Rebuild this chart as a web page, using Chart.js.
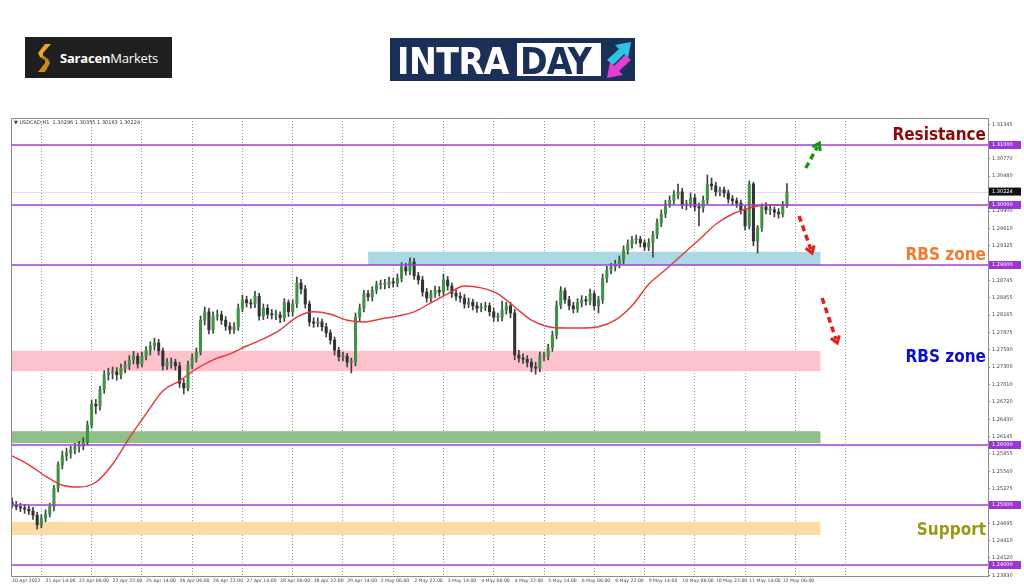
<!DOCTYPE html>
<html>
<head>
<meta charset="utf-8">
<script src="https://cdn.jsdelivr.net/npm/chart.js@4.4.1/dist/chart.umd.min.js"></script>
<style>
  html, body { margin: 0; padding: 0; background: #fff; }
  #wrap { position: relative; width: 1024px; height: 587px; overflow: hidden; }
  #chart { position: absolute; left: 0; top: 0; }
  .saracen { position: absolute; left: 25px; top: 37px; width: 147px; height: 41px; background: #1f1f1f; }
  .saracen svg { position: absolute; left: 11px; top: 7px; }
  .saracen .txt { position: absolute; left: 35px; top: 12px; color: #fff; font: 13px "Open Sans", sans-serif; letter-spacing: -0.2px; }
  .saracen .txt b { font-weight: 700; }
  .intraday { position: absolute; left: 390px; top: 38px; width: 245px; height: 43px; background: #1b3059; }
  .intraday .intra { position: absolute; left: 7px; top: 2px; color: #fff; font: bold 37px "DejaVu Sans Condensed", "DejaVu Sans", sans-serif; letter-spacing: -0.5px; }
  .intraday .day { position: absolute; left: 127px; top: 5px; width: 84px; height: 33px; background: #fff; }
  .intraday .day span { position: absolute; left: 3px; top: -3px; color: #1b3059; font: bold 37px "DejaVu Sans Condensed", "DejaVu Sans", sans-serif; letter-spacing: -1px; }
  .intraday svg { position: absolute; left: 214px; top: 2px; }
</style>
</head>
<body>
<div id="wrap">
  <canvas id="chart" width="1024" height="587"></canvas>
  <div class="saracen">
    <svg width="16" height="28" viewBox="0 0 16 28">
      <polygon points="9,0 15,0 7,9 7,12 13,15 4,13 2,9" fill="#e5a928"/>
      <polygon points="3,13 12,15 14,19 9,28 2,28 9,19 9,16" fill="#c98a16"/>
    </svg>
    <div class="txt"><b>Saracen</b>Markets</div>
  </div>
  <div class="intraday">
    <div class="intra">INTRA</div>
    <div class="day"><span>DAY</span></div>
    <svg width="30" height="40" viewBox="0 0 30 40">
      <polygon points="3,20 15,9 11,5 27,2 24,18 20,14 9,25" fill="#2ec4e6"/>
      <polygon points="27,20 15,31 19,35 3,38 6,22 10,26 21,15" fill="#e63ccf"/>
    </svg>
  </div>
</div>
<script>
// hourly bars: candles are 2-hour bars, index = hours since 20 Apr 22:00 (weekends skipped)
const barHours = 2;

const opens = [
  1.2505,1.2500,1.2497,1.2495,1.2493,1.2490,1.2483,1.2467,1.2478,1.2485,
  1.2497,1.2528,1.2567,1.2582,1.2587,1.2592,1.2597,1.2598,1.2605,1.2633,
  1.2668,1.2665,1.2692,1.2717,1.2720,1.2722,1.2717,1.2728,1.2733,1.2742,
  1.2748,1.2735,1.2748,1.2758,1.2765,1.2770,1.2757,1.2732,1.2737,1.2738,
  1.2732,1.2703,1.2695,1.2733,1.2745,1.2755,1.2808,1.2822,1.2792,1.2815,
  1.2817,1.2808,1.2798,1.2792,1.2797,1.2828,1.2842,1.2837,1.2835,1.2848,
  1.2815,1.2828,1.2818,1.2817,1.2817,1.2812,1.2837,1.2822,1.2835,1.2870,
  1.2860,1.2835,1.2805,1.2803,1.2805,1.2797,1.2787,1.2775,1.2758,1.2747,
  1.2748,1.2738,1.2738,1.2813,1.2828,1.2852,1.2847,1.2858,1.2867,1.2868,
  1.2868,1.2872,1.2870,1.2878,1.2897,1.2890,1.2905,1.2882,1.2875,1.2855,
  1.2845,1.2852,1.2858,1.2855,1.2875,1.2865,1.2853,1.2848,1.2845,1.2835,
  1.2838,1.2832,1.2828,1.2830,1.2832,1.2822,1.2813,1.2813,1.2825,1.2832,
  1.2820,1.2750,1.2745,1.2743,1.2738,1.2730,1.2728,1.2748,1.2748,1.2762,
  1.2783,1.2833,1.2857,1.2842,1.2832,1.2827,1.2837,1.2842,1.2840,1.2852,
  1.2832,1.2842,1.2878,1.2892,1.2897,1.2902,1.2908,1.2925,1.2935,1.2942,
  1.2943,1.2937,1.2930,1.2937,1.2950,1.2970,1.2985,1.3002,1.3008,1.3017,
  1.3022,1.3000,1.3002,1.3012,1.2997,1.2995,1.3008,1.3035,1.3032,1.3022,
  1.3025,1.3020,1.3010,1.3007,1.3003,1.2992,1.2965,1.3035,1.2940,1.2962,
  1.2997,1.2992,1.2992,1.2988,1.2985,1.3000
];
const highs = [
  1.2512,1.2506,1.2503,1.2501,1.2499,1.2496,1.2488,1.2484,1.2492,1.2503,
  1.2533,1.2572,1.2590,1.2595,1.2598,1.2603,1.2606,1.2612,1.2640,1.2675,
  1.2676,1.2698,1.2724,1.2728,1.2730,1.2729,1.2735,1.2740,1.2749,1.2756,
  1.2753,1.2755,1.2764,1.2772,1.2778,1.2776,1.2762,1.2744,1.2745,1.2743,
  1.2738,1.2710,1.2740,1.2752,1.2762,1.2815,1.2830,1.2828,1.2822,1.2825,
  1.2823,1.2814,1.2804,1.2804,1.2835,1.2850,1.2848,1.2843,1.2856,1.2853,
  1.2835,1.2834,1.2826,1.2825,1.2822,1.2844,1.2842,1.2842,1.2880,1.2876,
  1.2866,1.2840,1.2812,1.2812,1.2810,1.2803,1.2792,1.2780,1.2763,1.2755,
  1.2753,1.2745,1.2820,1.2835,1.2858,1.2858,1.2864,1.2873,1.2875,1.2876,
  1.2880,1.2878,1.2885,1.2904,1.2903,1.2912,1.2911,1.2888,1.2881,1.2861,
  1.2858,1.2865,1.2864,1.2885,1.2881,1.2870,1.2860,1.2854,1.2851,1.2845,
  1.2843,1.2838,1.2836,1.2838,1.2837,1.2828,1.2820,1.2840,1.2838,1.2838,
  1.2826,1.2758,1.2752,1.2749,1.2744,1.2738,1.2755,1.2755,1.2768,1.2790,
  1.2840,1.2864,1.2862,1.2848,1.2838,1.2844,1.2849,1.2848,1.2860,1.2857,
  1.2848,1.2885,1.2898,1.2903,1.2908,1.2915,1.2932,1.2942,1.2948,1.2950,
  1.2948,1.2942,1.2944,1.2956,1.2977,1.2992,1.3008,1.3015,1.3024,1.3035,
  1.3028,1.3008,1.3020,1.3018,1.3003,1.3015,1.3050,1.3045,1.3038,1.3030,
  1.3030,1.3025,1.3016,1.3012,1.3008,1.2998,1.3040,1.3038,1.2966,1.3002,
  1.3004,1.3000,1.2997,1.2994,1.3006,1.30355
];
const lows = [
  1.2495,1.2492,1.2489,1.2486,1.2484,1.2476,1.2460,1.2462,1.2472,1.2480,
  1.2490,1.2522,1.2560,1.2574,1.2578,1.2585,1.2588,1.2592,1.2600,1.2628,
  1.2652,1.2658,1.2686,1.2708,1.2710,1.2708,1.2710,1.2720,1.2726,1.2735,
  1.2728,1.2730,1.2742,1.2750,1.2758,1.2750,1.2725,1.2726,1.2728,1.2725,
  1.2696,1.2685,1.2690,1.2727,1.2738,1.2750,1.2800,1.2785,1.2786,1.2808,
  1.2801,1.2791,1.2785,1.2786,1.2791,1.2822,1.2830,1.2828,1.2829,1.2808,
  1.2809,1.2811,1.2810,1.2809,1.2804,1.2806,1.2814,1.2815,1.2829,1.2852,
  1.2828,1.2798,1.2796,1.2797,1.2790,1.2780,1.2768,1.2750,1.2740,1.2740,
  1.2730,1.2720,1.2732,1.2806,1.2822,1.2840,1.2840,1.2852,1.2860,1.2860,
  1.2862,1.2863,1.2864,1.2872,1.2883,1.2884,1.2876,1.2868,1.2848,1.2838,
  1.2839,1.2846,1.2848,1.2849,1.2858,1.2846,1.2841,1.2838,1.2828,1.2829,
  1.2825,1.2821,1.2822,1.2824,1.2815,1.2806,1.2806,1.2807,1.2818,1.2812,
  1.2742,1.2738,1.2736,1.2730,1.2722,1.2718,1.2722,1.2740,1.2742,1.2756,
  1.2777,1.2827,1.2836,1.2825,1.2820,1.2821,1.2830,1.2833,1.2834,1.2825,
  1.2820,1.2836,1.2871,1.2885,1.2890,1.2895,1.2902,1.2918,1.2928,1.2935,
  1.2930,1.2924,1.2924,1.2913,1.2944,1.2964,1.2979,1.2996,1.3002,1.3010,
  1.2994,1.2992,1.2996,1.2990,1.2965,1.2988,1.3002,1.3025,1.3015,1.3015,
  1.3013,1.3003,1.3000,1.2996,1.2985,1.2958,1.2960,1.2932,1.2920,1.2956,
  1.2985,1.2984,1.2980,1.2978,1.2980,1.2996
];
const closes = [
  1.2500,1.2497,1.2495,1.2493,1.2490,1.2483,1.2467,1.2478,1.2485,1.2497,
  1.2528,1.2567,1.2582,1.2587,1.2592,1.2597,1.2598,1.2605,1.2633,1.2668,
  1.2665,1.2692,1.2717,1.2720,1.2722,1.2717,1.2728,1.2733,1.2742,1.2748,
  1.2735,1.2748,1.2758,1.2765,1.2770,1.2757,1.2732,1.2737,1.2738,1.2732,
  1.2703,1.2695,1.2733,1.2745,1.2755,1.2808,1.2822,1.2792,1.2815,1.2817,
  1.2808,1.2798,1.2792,1.2797,1.2828,1.2842,1.2837,1.2835,1.2848,1.2815,
  1.2828,1.2818,1.2817,1.2817,1.2812,1.2837,1.2822,1.2835,1.2870,1.2860,
  1.2835,1.2805,1.2803,1.2805,1.2797,1.2787,1.2775,1.2758,1.2747,1.2748,
  1.2738,1.2738,1.2813,1.2828,1.2852,1.2847,1.2858,1.2867,1.2868,1.2868,
  1.2872,1.2870,1.2878,1.2897,1.2890,1.2905,1.2882,1.2875,1.2855,1.2845,
  1.2852,1.2858,1.2855,1.2875,1.2865,1.2853,1.2848,1.2845,1.2835,1.2838,
  1.2832,1.2828,1.2830,1.2832,1.2822,1.2813,1.2813,1.2825,1.2832,1.2820,
  1.2750,1.2745,1.2743,1.2738,1.2730,1.2728,1.2748,1.2748,1.2762,1.2783,
  1.2833,1.2857,1.2842,1.2832,1.2827,1.2837,1.2842,1.2840,1.2852,1.2832,
  1.2842,1.2878,1.2892,1.2897,1.2902,1.2908,1.2925,1.2935,1.2942,1.2943,
  1.2937,1.2930,1.2937,1.2950,1.2970,1.2985,1.3002,1.3008,1.3017,1.3022,
  1.3000,1.3002,1.3012,1.2997,1.2995,1.3008,1.3035,1.3032,1.3022,1.3025,
  1.3020,1.3010,1.3007,1.3003,1.2992,1.2965,1.3035,1.2940,1.2962,1.2997,
  1.2992,1.2992,1.2988,1.2985,1.3000,1.30224
];

// red moving average, read every 8 hours
const maBars = [0,8,16,24,32,40,48,56,64,72,80,88,96,104,112,120,128,136,144,152,
  160,168,176,184,192,200,208,216,224,232,240,248,256,264,272,280,288,296,304,312,
  320,328,336,344,352,360,368,371];
const maValues = [
  1.2582,1.2567,1.2548,1.2533,1.2530,1.2538,1.2568,1.2612,1.2652,1.2690,
  1.2707,1.2727,1.2742,1.2752,1.2765,1.2777,1.2792,1.2813,1.2822,1.2818,
  1.2808,1.2805,1.2810,1.2815,1.2822,1.2837,1.2852,1.2865,1.2862,1.2852,
  1.2830,1.2808,1.2797,1.2795,1.2795,1.2797,1.2808,1.2832,1.2868,1.2892,
  1.2917,1.2942,1.2968,1.2985,1.2995,1.3000,1.3000,1.3000
];

// time axis (one label every 16 hourly bars)
const timeLabels = ['20 Apr 2022','21 Apr 14:00','22 Apr 06:00','22 Apr 22:00','25 Apr 14:00',
  '26 Apr 06:00','26 Apr 22:00','27 Apr 14:00','28 Apr 06:00','28 Apr 22:00','29 Apr 14:00',
  '2 May 06:00','2 May 22:00','3 May 14:00','4 May 06:00','4 May 22:00','5 May 14:00',
  '6 May 06:00','6 May 22:00','9 May 14:00','10 May 06:00','10 May 22:00','11 May 14:00','12 May 06:00'];
const labelEvery = 16;
const dayBars = [2,26,50,74,98,122,146,170,194,218,242,266,290,314,338,362,386];

const priceTicks = [1.31345,1.30770,1.30480,1.29900,1.29610,1.29325,1.28745,1.28455,1.28165,
  1.27875,1.27590,1.27300,1.27010,1.26720,1.26430,1.26145,1.25855,1.25560,1.25275,
  1.24695,1.24410,1.24120,1.23830];
const levelPrices = [1.31, 1.30, 1.29, 1.26, 1.25, 1.24];
const lastPrice = 1.30224;
const headerText = '\u25BC USDCAD,H1  1.30296 1.30355 1.30163 1.30224';

// zones: [fromBar, toBar, low, high]
const zoneFrom = [170, null, null, null];
const zoneTo = [386, 386, 386, 386];
const zoneLow = [1.2900, 1.2723, 1.2603, 1.2450];
const zoneHigh = [1.2922, 1.2757, 1.2623, 1.2472];
const zoneColors = ['#a9d9e3', '#fcc3cd', '#8fbf8a', '#fddba6'];

const notes = [
  { text: 'Resistance', price: 1.3115, color: '#8b0a0a' },
  { text: 'RBS zone', price: 1.2915, color: '#f07c33' },
  { text: 'RBS zone', price: 1.2745, color: '#1010c8' },
  { text: 'Support', price: 1.2458, color: '#9c9a12' }
];
// arrows: [bar, price] start and end
const arrows = [
  { from: [379, 1.30617], to: [385.5, 1.3103], color: '#17951a' },
  { from: [375.8, 1.29817], to: [382, 1.2920], color: '#e41f1f' },
  { from: [386.8, 1.28450], to: [394, 1.2770], color: '#e41f1f' }
];

const candleX = opens.map((_, i) => i * barHours);

function dashedArrow(ctx, x0, y0, x1, y1, color) {
  const ang = Math.atan2(y1 - y0, x1 - x0);
  ctx.save();
  ctx.strokeStyle = color;
  ctx.lineWidth = 3.5;
  ctx.setLineDash([6, 4]);
  ctx.beginPath();
  ctx.moveTo(x0, y0);
  ctx.lineTo(x1 - 4 * Math.cos(ang), y1 - 4 * Math.sin(ang));
  ctx.stroke();
  ctx.setLineDash([]);
  ctx.lineWidth = 3;
  const h = 8;
  ctx.beginPath();
  ctx.moveTo(x1 - h * Math.cos(ang - 0.6), y1 - h * Math.sin(ang - 0.6));
  ctx.lineTo(x1, y1);
  ctx.lineTo(x1 - h * Math.cos(ang + 0.6), y1 - h * Math.sin(ang + 0.6));
  ctx.stroke();
  ctx.restore();
}

const overlay = {
  id: 'overlay',
  beforeDatasetsDraw(chart) {
    const { ctx, chartArea: a } = chart;
    const xs = chart.scales.x, ys = chart.scales.y;
    ctx.save();
    ctx.beginPath(); ctx.rect(a.left, a.top, a.width, a.height); ctx.clip();
    zoneLow.forEach((lo, i) => {
      const x0 = zoneFrom[i] === null ? a.left : xs.getPixelForValue(zoneFrom[i]);
      const x1 = xs.getPixelForValue(zoneTo[i]);
      const y0 = ys.getPixelForValue(zoneHigh[i]);
      const y1 = ys.getPixelForValue(lo);
      ctx.fillStyle = zoneColors[i];
      ctx.fillRect(x0, y0, x1 - x0, y1 - y0);
    });
    const yb = Math.round(ys.getPixelForValue(lastPrice)) + 0.5;
    ctx.strokeStyle = '#e6dbe8';
    ctx.lineWidth = 1;
    ctx.beginPath(); ctx.moveTo(a.left, yb); ctx.lineTo(a.right, yb); ctx.stroke();
    ctx.restore();
  },
  afterDatasetsDraw(chart) {
    const { ctx, chartArea: a } = chart;
    const xs = chart.scales.x, ys = chart.scales.y;
    ctx.save();
    ctx.strokeStyle = '#a23fd0';
    ctx.lineWidth = 1.6;
    levelPrices.forEach(v => {
      const yy = ys.getPixelForValue(v);
      ctx.beginPath(); ctx.moveTo(a.left, yy); ctx.lineTo(a.right, yy); ctx.stroke();
    });
    // frame
    ctx.strokeStyle = '#8a8a8a';
    ctx.lineWidth = 1;
    ctx.beginPath();
    ctx.moveTo(a.left + 0.5, a.bottom); ctx.lineTo(a.left + 0.5, a.top + 0.5); ctx.lineTo(a.right, a.top + 0.5);
    ctx.stroke();
    // header
    ctx.fillStyle = '#333';
    ctx.font = '5px "DejaVu Sans"';
    ctx.textBaseline = 'middle';
    ctx.fillText(headerText, a.left + 3, a.top + 5);
    // arrows
    arrows.forEach(ar => {
      dashedArrow(ctx, xs.getPixelForValue(ar.from[0]), ys.getPixelForValue(ar.from[1]),
        xs.getPixelForValue(ar.to[0]), ys.getPixelForValue(ar.to[1]), ar.color);
    });
    // notes
    ctx.font = 'bold 17px "DejaVu Sans Condensed", "DejaVu Sans"';
    ctx.textAlign = 'right';
    ctx.textBaseline = 'middle';
    notes.forEach(n => {
      ctx.fillStyle = n.color;
      ctx.fillText(n.text, a.right - 2, ys.getPixelForValue(n.price));
    });
    ctx.restore();
  },
  afterDraw(chart) {
    const { ctx, chartArea: a } = chart;
    const ys = chart.scales.y;
    ctx.save();
    ctx.font = '5px "DejaVu Sans"';
    ctx.textBaseline = 'middle';
    const box = (v, fill) => {
      const yy = ys.getPixelForValue(v);
      ctx.fillStyle = fill;
      ctx.fillRect(a.right + 1, yy - 4, 32, 8);
      ctx.fillStyle = '#fff';
      ctx.fillText(v.toFixed(5), a.right + 4, yy);
    };
    levelPrices.forEach(v => box(v, '#9b35d6'));
    box(lastPrice, '#111');
    ctx.restore();
  }
};

new Chart(document.getElementById('chart'), {
  type: 'bar',
  data: {
    datasets: [
      {
        label: 'MA',
        type: 'line',
        data: maBars.map((b, i) => ({ x: b, y: maValues[i] })),
        borderColor: '#e23a3a',
        borderWidth: 1.4,
        pointRadius: 0,
        cubicInterpolationMode: 'monotone',
        order: 0
      },
      {
        label: 'wick',
        data: candleX.map((x, i) => ({ x, y: [lows[i], highs[i]] })),
        backgroundColor: '#404040',
        barThickness: 1,
        grouped: false,
        order: 2
      },
      {
        label: 'body',
        data: candleX.map((x, i) => ({ x, y: [opens[i], closes[i]] })),
        backgroundColor: ctx => closes[ctx.dataIndex] >= opens[ctx.dataIndex] ? '#3f9343' : '#333333',
        borderWidth: 0,
        barThickness: 2.4,
        minBarLength: 1,
        grouped: false,
        order: 1
      }
    ]
  },
  options: {
    responsive: false,
    animation: false,
    events: [],
    layout: { padding: { left: 11, top: 118, right: 0, bottom: 0 } },
    plugins: { legend: { display: false }, tooltip: { enabled: false } },
    scales: {
      x: {
        type: 'linear',
        offset: false,
        min: -0.5,
        max: 466,
        position: 'bottom',
        afterBuildTicks: s => { s.ticks = timeLabels.map((_, i) => ({ value: i * labelEvery })); },
        afterFit: s => { s.height = 11; },
        ticks: {
          autoSkip: false,
          maxRotation: 0,
          align: 'start',
          padding: 2,
          color: '#444',
          font: { size: 4.6, family: 'DejaVu Sans' },
          callback: (v, i) => timeLabels[i]
        },
        grid: { display: false, drawTicks: false },
        border: { display: true, color: '#8a8a8a' }
      },
      xg: {
        type: 'linear',
        offset: false,
        min: -0.5,
        max: 466,
        position: 'bottom',
        afterBuildTicks: s => { s.ticks = dayBars.map(v => ({ value: v })); },
        afterFit: s => { s.height = 0; },
        ticks: { display: false },
        grid: { color: '#9a9a9a', lineWidth: 1, drawTicks: false },
        border: { display: false, dash: [1, 2] }
      },
      y: {
        position: 'right',
        min: 1.23817,
        max: 1.3145,
        afterBuildTicks: s => { s.ticks = priceTicks.map(v => ({ value: v })); },
        afterFit: s => { s.width = 36; },
        ticks: {
          padding: 2,
          color: '#444',
          font: { size: 5, family: 'DejaVu Sans' },
          callback: v => v.toFixed(5)
        },
        grid: { drawOnChartArea: false, tickLength: 2, color: '#8a8a8a' },
        border: { display: true, color: '#8a8a8a' }
      }
    }
  },
  plugins: [overlay]
});
</script>
</body>
</html>
